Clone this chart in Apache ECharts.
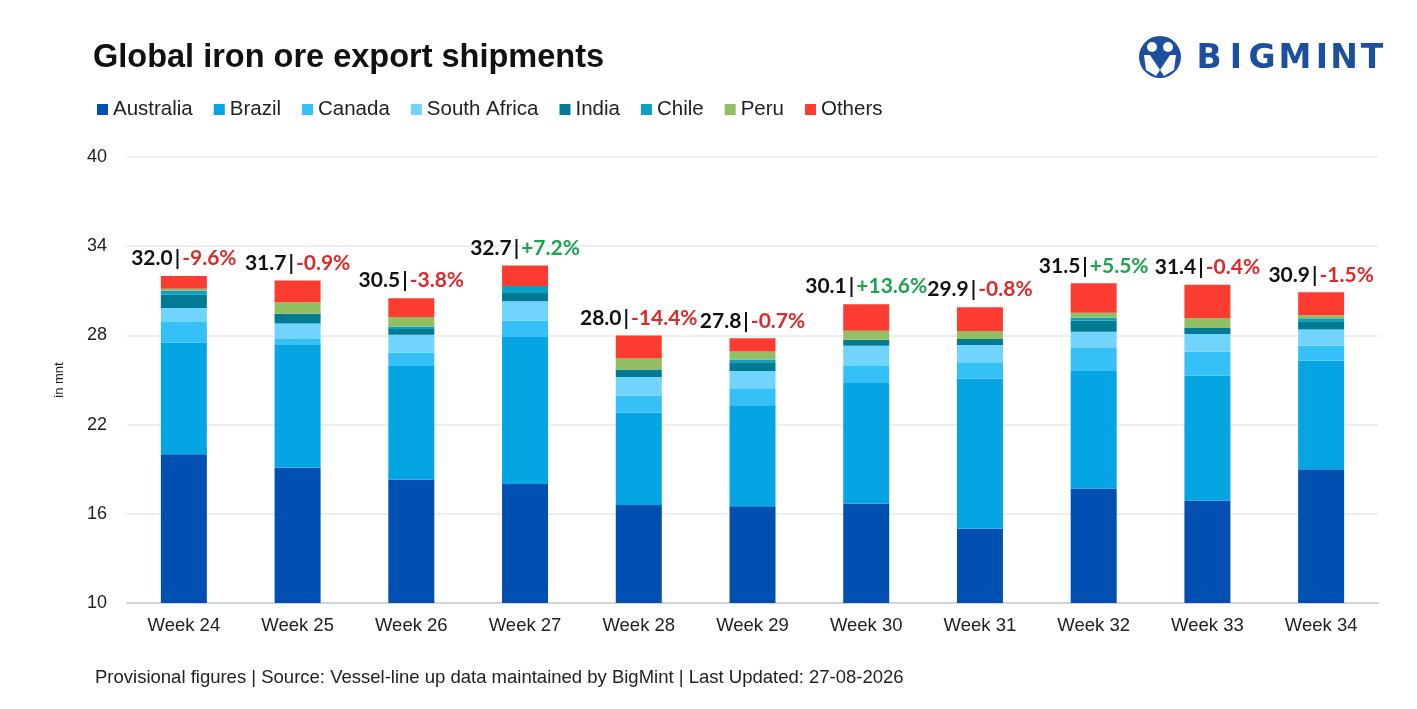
<!DOCTYPE html>
<html>
<head>
<meta charset="utf-8">
<title>Global iron ore export shipments</title>
<script src="https://cdn.jsdelivr.net/npm/echarts@6.0.0/dist/echarts.min.js"></script>
<style>
  html, body { margin: 0; padding: 0; background: #fff; }
  #main { width: 1417px; height: 709px; }
</style>
</head>
<body>
<div id="main"></div>
<script>
// weeks on the x axis
var weeks = ['Week 24', 'Week 25', 'Week 26', 'Week 27', 'Week 28', 'Week 29',
             'Week 30', 'Week 31', 'Week 32', 'Week 33', 'Week 34'];

// shipments per origin, mnt
var australia   = [20.0, 19.1, 18.3, 18.0, 16.6, 16.5, 16.7, 15.0, 17.7, 16.9, 19.0];
var brazil      = [7.5, 8.3, 7.65, 9.9, 6.2, 6.8, 8.1, 10.1, 7.9, 8.4, 7.3];
var canada      = [1.4, 0.35, 0.9, 1.1, 1.15, 1.15, 1.15, 1.1, 1.55, 1.6, 1.0];
var southAfrica = [0.95, 1.05, 1.2, 1.3, 1.25, 1.15, 1.35, 1.15, 1.1, 1.2, 1.1];
var india       = [0.9, 0.65, 0.38, 0.55, 0.5, 0.6, 0.4, 0.4, 0.75, 0.4, 0.55];
var chile       = [0.27, 0, 0.17, 0.47, 0, 0.18, 0, 0, 0.2, 0, 0.2];
var peru        = [0.12, 0.78, 0.64, 0, 0.74, 0.54, 0.61, 0.54, 0.33, 0.67, 0.2];
var others      = [0.86, 1.47, 1.26, 1.38, 1.56, 0.88, 1.79, 1.61, 1.97, 2.23, 1.55];

// labels printed above each bar: total | week-on-week change
var totals  = [32.0, 31.7, 30.5, 32.7, 28.0, 27.8, 30.1, 29.9, 31.5, 31.4, 30.9];
var changes = [-9.6, -0.9, -3.8, 7.2, -14.4, -0.7, 13.6, -0.8, 5.5, -0.4, -1.5];

// y axis ticks
var yTicks = [10, 16, 22, 28, 34, 40];

var seriesList = [
    {name: 'Australia',    data: australia,   color: '#0050b1'},
    {name: 'Brazil',       data: brazil,      color: '#05a5e4'},
    {name: 'Canada',       data: canada,      color: '#35c1f8'},
    {name: 'South Africa', data: southAfrica, color: '#70d4fd'},
    {name: 'India',        data: india,       color: '#017a94'},
    {name: 'Chile',        data: chile,       color: '#0ba2c2'},
    {name: 'Peru',         data: peru,        color: '#92bf62'},
    {name: 'Others',       data: others,      color: '#fd3c31'}
];

var labelFont = {fontFamily: 'Lato', fontWeight: 'bold', fontSize: 21};

var series = [];
for (var i = 0; i < seriesList.length; i++) {
    var s = {
        name: seriesList[i].name,
        type: 'bar',
        stack: 'total',
        barWidth: 46,
        data: seriesList[i].data,
        itemStyle: {color: seriesList[i].color},
        emphasis: {disabled: true}
    };
    // the top series carries the total|change label
    if (i == seriesList.length - 1) {
        s.label = {
            show: true,
            position: 'top',
            distance: 7,
            formatter: function (p) {
                var c = changes[p.dataIndex];
                var txt = (c > 0 ? '+' : '') + c.toFixed(1) + '%';
                return '{n|' + totals[p.dataIndex].toFixed(1) + '}{bar||}{' + (c > 0 ? 'up' : 'dn') + '|' + txt + '}';
            },
            rich: {
                n:   Object.assign({color: '#111'}, labelFont),
                bar: Object.assign({color: '#111', padding: [0, 2]}, labelFont),
                up:  Object.assign({color: '#1ba34e'}, labelFont),
                dn:  Object.assign({color: '#dc2a2a'}, labelFont)
            }
        };
    }
    series.push(s);
}

// BIGMINT logo letters
var logoLetters = ['B', 'I', 'G', 'M', 'I', 'N', 'T'];
var logoX = [1209, 1236, 1262, 1295, 1322, 1344, 1372];
var logo = [
    {type: 'circle', shape: {cx: 1160, cy: 57, r: 21}, style: {fill: '#1d4f9f'}},
    {type: 'circle', shape: {cx: 1152, cy: 47, r: 5}, style: {fill: '#fff'}},
    {type: 'circle', shape: {cx: 1168, cy: 47, r: 5}, style: {fill: '#fff'}},
    {type: 'polygon', shape: {points: [[1144, 55], [1150, 55], [1160, 70], [1156, 76], [1146, 70]]}, style: {fill: '#fff'}},
    {type: 'polygon', shape: {points: [[1176, 55], [1170, 55], [1160, 70], [1164, 76], [1174, 70]]}, style: {fill: '#fff'}}
];
for (var k = 0; k < logoLetters.length; k++) {
    logo.push({
        type: 'text', x: logoX[k], y: 59,
        style: {text: logoLetters[k], fill: '#1d4f9f', font: 'bold 33px "DejaVu Sans"', align: 'center', verticalAlign: 'middle'}
    });
}

var myChart = echarts.init(document.getElementById('main'));
myChart.setOption({
    animation: false,
    backgroundColor: '#fff',
    title: {
        text: 'Global iron ore export shipments',
        left: 88,
        top: 37,
        textStyle: {fontFamily: 'Liberation Sans', fontWeight: 'bold', fontSize: 32.5, color: '#111'}
    },
    legend: {
        left: 92,
        top: 94,
        itemWidth: 11,
        itemHeight: 11,
        itemGap: 21,
        icon: 'rect',
        textStyle: {fontFamily: 'Liberation Sans', fontSize: 20.5, color: '#222'},
        data: seriesList.map(function (d) { return d.name; })
    },
    grid: {left: 127, right: 39, top: 157, bottom: 106},
    xAxis: {
        type: 'category',
        data: weeks,
        axisTick: {show: false},
        axisLine: {lineStyle: {color: '#d4d4d4', width: 2}},
        axisLabel: {fontFamily: 'Liberation Sans', fontSize: 18.5, color: '#222', margin: 13}
    },
    yAxis: {
        type: 'value',
        min: yTicks[0],
        max: yTicks[yTicks.length - 1],
        interval: yTicks[1] - yTicks[0],
        name: 'in mnt',
        nameLocation: 'middle',
        nameGap: 61,
        nameRotate: 90,
        nameTextStyle: {fontFamily: 'Liberation Sans', fontSize: 13, color: '#222'},
        axisLine: {show: false},
        axisTick: {show: false},
        axisLabel: {fontFamily: 'Liberation Sans', fontSize: 18, color: '#222', margin: 20},
        splitLine: {lineStyle: {color: '#e9e9e9', width: 1.5}}
    },
    series: series,
    graphic: [
        {
            type: 'text', left: 95, top: 668,
            style: {
                text: 'Provisional figures | Source: Vessel-line up data maintained by BigMint | Last Updated: 27-08-2026',
                fill: '#222', font: '18.5px "Liberation Sans"'
            }
        }
    ].concat(logo)
});
</script>
</body>
</html>
